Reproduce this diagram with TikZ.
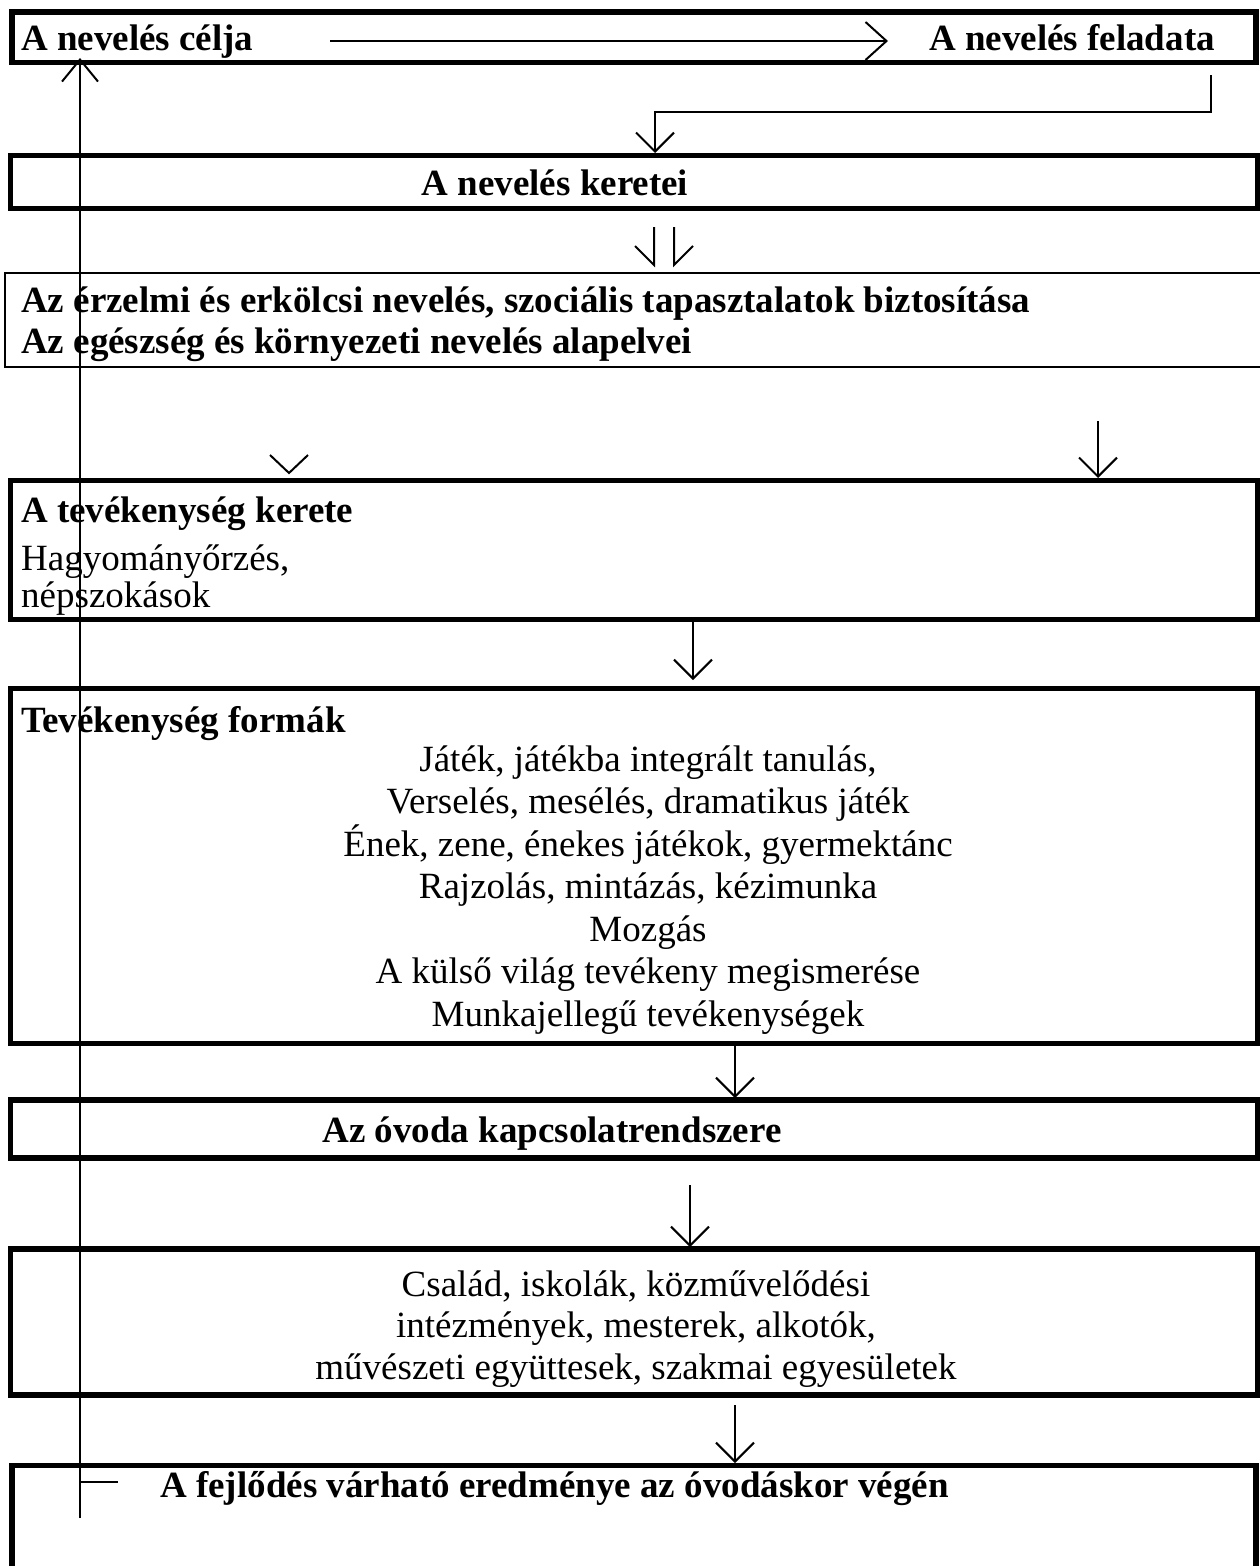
\documentclass[tikz,border=0pt]{standalone}
\usepackage{fontspec}
\setmainfont{Liberation Serif}
\usetikzlibrary{arrows.meta}
\begin{document}
\begin{tikzpicture}[x=1pt,y=-1pt,
  thickbox/.style={draw, line width=5.5pt, inner sep=0pt, outer sep=0pt, anchor=north west},
  thinbox/.style={draw, line width=2pt, inner sep=0pt, outer sep=0pt, anchor=north west},
  lbl/.style={font=\fontsize{37pt}{42pt}\selectfont, inner sep=0pt},
  blbl/.style={font=\fontsize{37pt}{42pt}\selectfont\bfseries, inner sep=0pt},
  conn/.style={line width=2pt},
  arr/.style={conn, -{Straight Barb[length=19pt,width=38pt]}}]
\clip (0,0) rectangle (1260,1566);
\fill[white] (0,0) rectangle (1260,1566);
% boxes
\node[thickbox, minimum width=1244pt, minimum height=50.5pt] (b1) at (12,12) {};
\node[thickbox, minimum width=1247pt, minimum height=53pt] (b2) at (10.5,155.5) {};
\node[thinbox, minimum width=1300pt, minimum height=94pt] (b3) at (5,273) {};
\node[thickbox, minimum width=1247pt, minimum height=139pt] (b4) at (10.5,480.5) {};
\node[thickbox, minimum width=1247pt, minimum height=355pt] (b5) at (10.5,688.5) {};
\node[thickbox, minimum width=1247pt, minimum height=58pt] (b6) at (10.5,1100) {};
\node[thickbox, minimum width=1247pt, minimum height=146pt] (b7) at (10.5,1249) {};
\node[thickbox, minimum width=1244pt, minimum height=200pt] (b8) at (12,1465.5) {};
% texts
\node[blbl, anchor=base west] (t1a) at (21,50) {A nevelés célja};
\node[blbl, anchor=base east] (t1b) at (1215,50) {A nevelés feladata};
\node[blbl, anchor=base] (t2) at (555,195) {A nevelés keretei};
\node[blbl, anchor=base west] (t3a) at (21,312) {Az érzelmi és erkölcsi nevelés, szociális tapasztalatok biztosítása};
\node[blbl, anchor=base west] (t3b) at (21,353) {Az egészség és környezeti nevelés alapelvei};
\node[blbl, anchor=base west] (t4a) at (21,522) {A tevékenység kerete};
\node[lbl, anchor=base west] (t4b) at (21,570) {Hagyományőrzés,};
\node[lbl, anchor=base west] (t4c) at (21,607) {népszokások};
\node[blbl, anchor=base west] (t5) at (21,732) {Tevékenység formák};
\node[lbl, anchor=base] (l1) at (648,771) {Játék, játékba integrált tanulás,};
\node[lbl, anchor=base] (l2) at (648,813.5) {Verselés, mesélés, dramatikus játék};
\node[lbl, anchor=base] (l3) at (648,856) {Ének, zene, énekes játékok, gyermektánc};
\node[lbl, anchor=base] (l4) at (648,898.5) {Rajzolás, mintázás, kézimunka};
\node[lbl, anchor=base] (l5) at (648,941) {Mozgás};
\node[lbl, anchor=base] (l6) at (648,983.5) {A külső világ tevékeny megismerése};
\node[lbl, anchor=base] (l7) at (648,1026) {Munkajellegű tevékenységek};
\node[blbl, anchor=base] (t6) at (552,1142) {Az óvoda kapcsolatrendszere};
\node[lbl, anchor=base] (t7a) at (636,1296) {Család, iskolák, közművelődési};
\node[lbl, anchor=base] (t7b) at (636,1337) {intézmények, mesterek, alkotók,};
\node[lbl, anchor=base] (t7c) at (636,1379) {művészeti együttesek, szakmai egyesületek};
\node[blbl, anchor=base west] (t8) at (160,1497) {A fejlődés várható eredménye az óvodáskor végén};
% connectors
\draw[conn, -{Straight Barb[length=21pt,width=38pt]}] (330,41) -- (888,41);
\draw[arr] (1211,75) -- (1211,112) -- (655,112) -- (655,153);
\draw[conn] (654,227) -- (654,265) -- (635,246);
\draw[conn] (674,227) -- (674,265) -- (693,246);
\draw[conn] (270,455) -- (289,473) -- (308,455);
\draw[arr] (1098,421) -- (1098,478);
\draw[arr] (693,620) -- (693,680);
\draw[arr] (735,1043) -- (735,1098);
\draw[arr] (690,1185) -- (690,1247);
\draw[arr] (735,1405) -- (735,1463);
\draw[conn, -{Straight Barb[length=22pt,width=36pt]}] (80,1518) -- (80,58);
\draw[conn] (80,1482) -- (118,1482);
\end{tikzpicture}
\end{document}
